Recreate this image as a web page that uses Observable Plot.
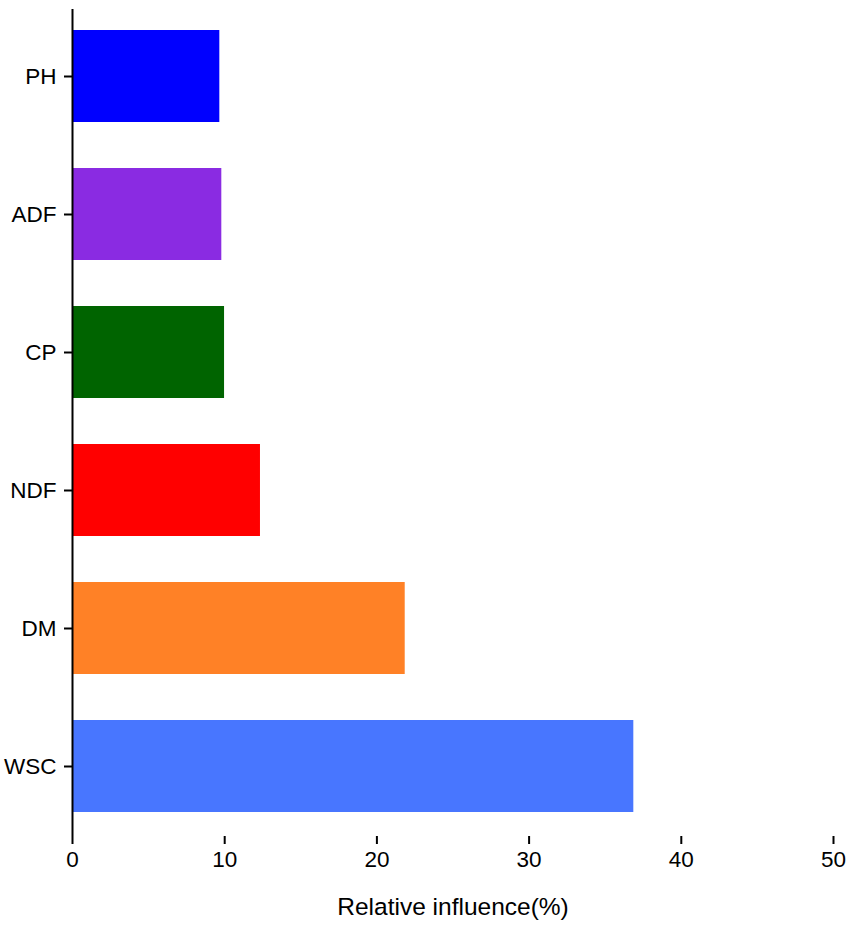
<!DOCTYPE html>
<html><head><meta charset="utf-8">
<script src="https://cdn.jsdelivr.net/npm/d3@7"></script>
<script src="https://cdn.jsdelivr.net/npm/@observablehq/plot@0.6"></script>
<style>body{margin:0;background:#fff} svg{font-family:"Liberation Sans",Arial,sans-serif}</style>
</head><body><div id="chart"></div>
<script>
const categories = ["PH","ADF","CP","NDF","DM","WSC"];
const values = [9.68, 9.81, 9.99, 12.35, 21.86, 36.88];
const colors = ["#0000FF","#8A2BE2","#006400","#FF0000","#FF8126","#4876FF"];
const xTicks = [0,10,20,30,40,50];
const xLabel = "Relative influence(%)";
const data = categories.map((c,i)=>({category:c, value:values[i]}));
const plot = Plot.plot({
  width: 851, height: 927,
  marginTop: 6, marginLeft: 72, marginRight: 18, marginBottom: 91,
  style: {fontFamily: "'Liberation Sans', Arial, sans-serif", fontSize: "22.5px", color: "#000", background: "#fff"},
  x: {domain: [0, 50], label: null},
  y: {domain: categories, paddingInner: 0.333, paddingOuter: 0.1667, label: null},
  color: {domain: categories, range: colors},
  marks: [
    Plot.barX(data, {y: "category", x: "value", fill: "category"}),
    Plot.axisX({ticks: xTicks, tickSize: 8, tickPadding: 7, strokeWidth: 2, label: null}),
    Plot.axisY({tickSize: 8, tickPadding: 8, strokeWidth: 2, label: null}),
    Plot.ruleX([0], {stroke: "#000", strokeWidth: 2, insetTop: 3}),
    Plot.ruleY([0], {stroke: "#000", strokeWidth: 2}),
    Plot.text([xLabel], {frameAnchor: "bottom", dy: 78, fontSize: 24.5, text: d => d})
  ]
});
document.getElementById("chart").appendChild(plot);
</script>
</body></html>
